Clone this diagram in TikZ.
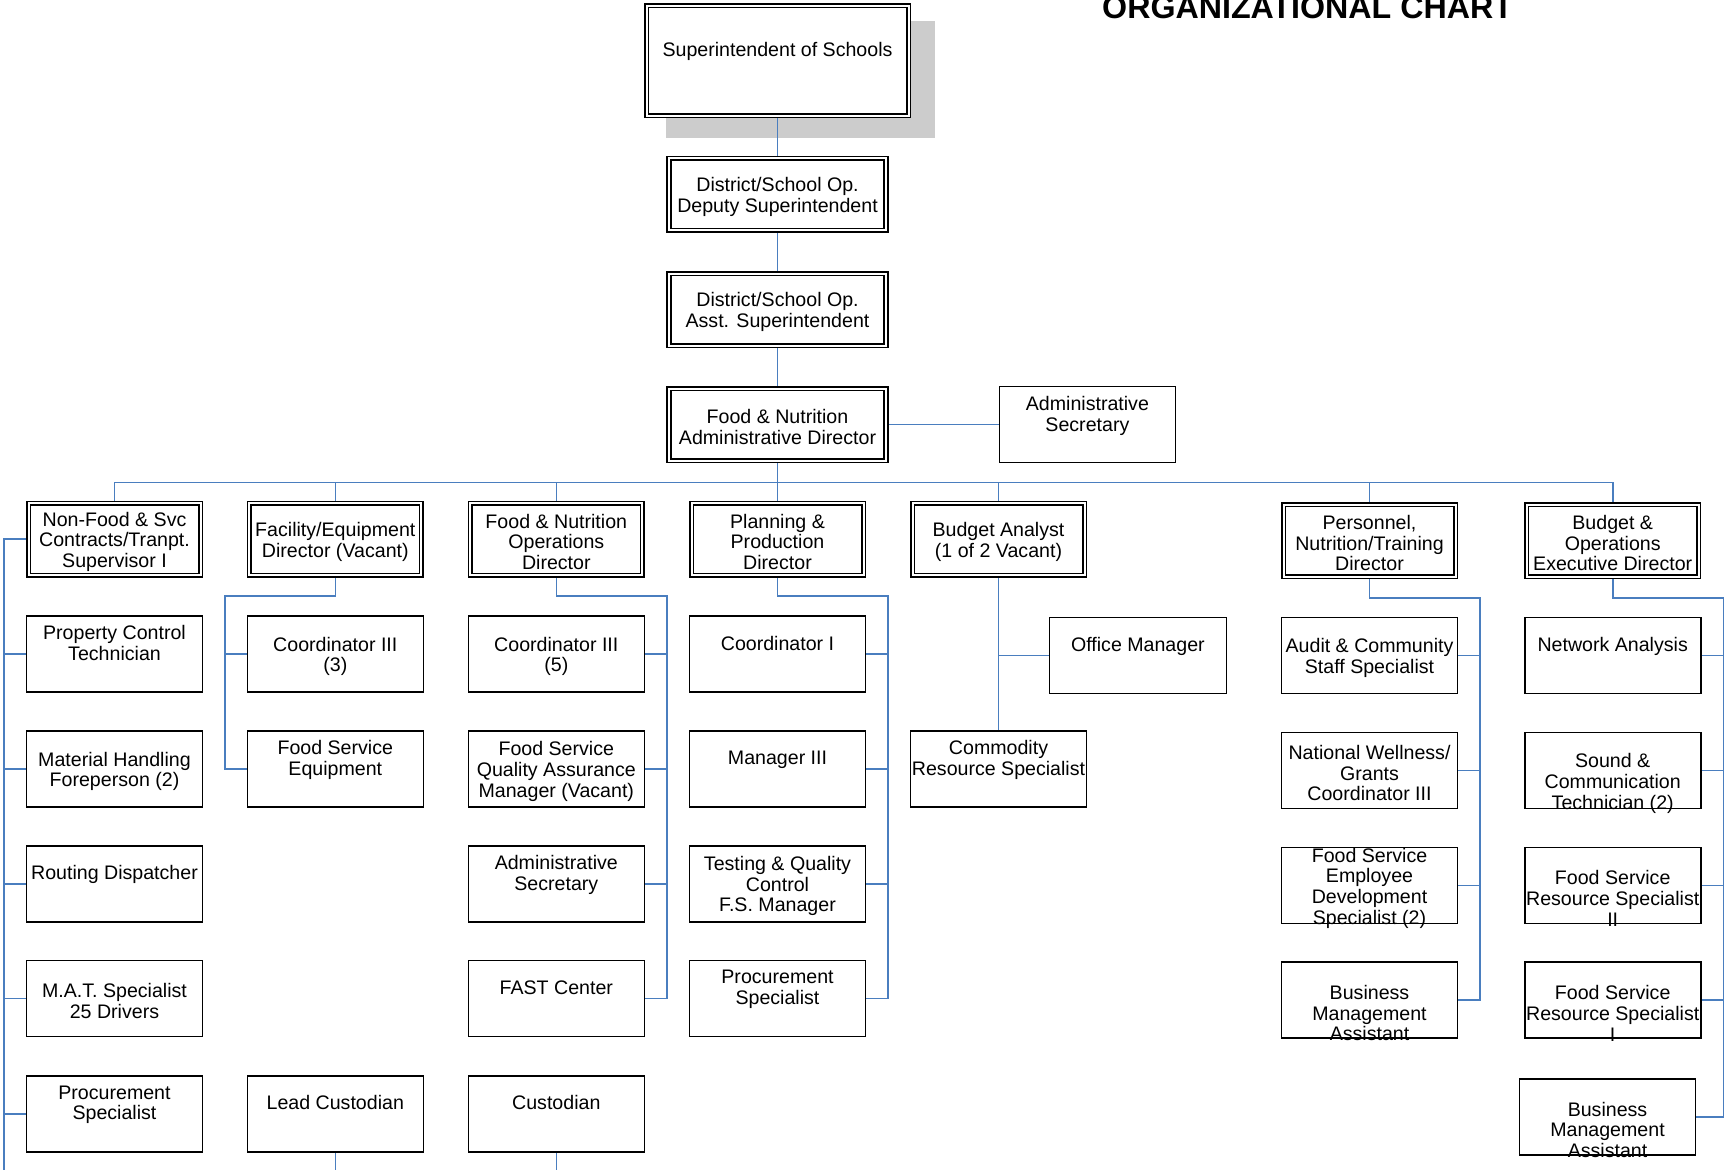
\documentclass[tikz,border=0pt]{standalone}
\usepackage{fontspec}
\setmainfont{Liberation Sans}
\usetikzlibrary{backgrounds}
\definecolor{linkblue}{RGB}{74,126,191}
\definecolor{shadowgray}{RGB}{204,204,204}
\newcommand{\jobfont}{\fontsize{19.6}{20.7}\selectfont}
\begin{document}
\begin{tikzpicture}[x=1pt,y=-1pt]
	\tikzstyle{box} = [draw,line width=1.6pt,fill=white,minimum width=176pt,minimum height=76pt,inner sep=0pt]
	\tikzstyle{head} = [box,double,double distance=2pt,minimum width=172pt,minimum height=72pt]
	\tikzstyle{txt} = [font=\jobfont,align=center,inner sep=0pt,yshift=-2.5pt]
	\tikzstyle{link} = [draw=linkblue,line width=1.6pt]
	\tikzstyle{feed} = [draw=linkblue,line width=1pt]

	\useasboundingbox (0,0) rectangle (1725,1170);

	\node[anchor=base west,inner sep=0pt,font=\fontsize{32.2}{36}\selectfont\bfseries] (title) at (1102,18) {ORGANIZATIONAL CHART};

	% top of the chart
	\node[head,minimum width=262pt,minimum height=110pt,label={[txt]center:{Superintendent of Schools\\\strut}}] (sup) at (777.5,60.5) {};
	\node[head,minimum width=217pt,label={[txt]center:{District/School Op.\\Deputy Superintendent}}] (dep) at (777.5,194.4) {};
	\node[head,minimum width=217pt,label={[txt]center:{District/School Op.\\Asst. Superintendent}}] (asst) at (777.5,309.5) {};
	\node[head,minimum width=217pt,label={[txt]center:{Food \& Nutrition\\Administrative Director}}] (fnad) at (777.5,424.5) {};
	\node[box,label={[txt]center:{Administrative\\Secretary\\\strut}}] (asec) at (1087.4,424.5) {};

	% directors
	\node[head,label={[txt]center:{Non-Food \& Svc\\Contracts/Tranpt.\\Supervisor I}}] (nonfood) at (114.5,539.2) {};
	\node[head,label={[txt]center:{Facility/Equipment\\Director (Vacant)}}] (facil) at (335.3,539.2) {};
	\node[head,label={[txt]center:{Food \& Nutrition\\Operations\\Director}}] (fnops) at (556.3,539.2) {};
	\node[head,label={[txt]center:{Planning \&\\Production\\Director}}] (plan) at (777.5,539.2) {};
	\node[head,label={[txt]center:{Budget Analyst\\(1 of 2 Vacant)}}] (budget) at (998.5,539.2) {};
	\node[head,label={[txt]center:{Personnel,\\Nutrition/Training\\Director}}] (pers) at (1369.5,540.7) {};
	\node[head,label={[txt]center:{Budget \&\\Operations\\Executive Director}}] (bops) at (1612.7,540.7) {};

	% non-food column
	\node[box,label={[txt]center:{Property Control\\Technician\\\strut}}] (pct) at (114.5,654) {};
	\node[box,label={[txt]center:{Material Handling\\Foreperson (2)}}] (mhf) at (114.5,768.8) {};
	\node[box,label={[txt]center:{Routing Dispatcher\\\strut}}] (rdis) at (114.5,883.7) {};
	\node[box,label={[txt]center:{M.A.T. Specialist\\25 Drivers}}] (mat) at (114.5,998.5) {};
	\node[box,label={[txt]center:{Procurement\\Specialist\\\strut}}] (proc1) at (114.5,1113.7) {};

	% facility column
	\node[box,label={[txt]center:{Coordinator III\\(3)}}] (coord3) at (335.3,654) {};
	\node[box,label={[txt]center:{Food Service\\Equipment\\\strut}}] (fse) at (335.3,768.8) {};
	\node[box,label={[txt]center:{Lead Custodian\\\strut}}] (leadc) at (335.3,1113.7) {};

	% operations column
	\node[box,label={[txt]center:{Coordinator III\\(5)}}] (coord5) at (556.3,654) {};
	\node[box,label={[txt]center:{Food Service\\Quality Assurance\\Manager (Vacant)}}] (fsqa) at (556.3,768.8) {};
	\node[box,label={[txt]center:{Administrative\\Secretary\\\strut}}] (asec2) at (556.3,883.7) {};
	\node[box,label={[txt]center:{FAST Center\\\strut}}] (fast) at (556.3,998.5) {};
	\node[box,label={[txt]center:{Custodian\\\strut}}] (cust) at (556.3,1113.7) {};

	% planning column
	\node[box,label={[txt]center:{Coordinator I\\\strut}}] (coord1) at (777.5,654) {};
	\node[box,label={[txt]center:{Manager III\\\strut}}] (mgr3) at (777.5,768.8) {};
	\node[box,label={[txt]center:{Testing \& Quality\\Control\\F.S. Manager}}] (tqc) at (777.5,883.7) {};
	\node[box,label={[txt]center:{Procurement\\Specialist\\\strut}}] (proc2) at (777.5,998.5) {};

	% budget analyst
	\node[box,minimum width=177pt,label={[txt]center:{Office Manager\\\strut}}] (office) at (1137.9,655.3) {};
	\node[box,label={[txt]center:{Commodity\\Resource Specialist\\\strut}}] (commod) at (998.5,768.7) {};

	% personnel column
	\node[box,label={[txt]center:{Audit \& Community\\Staff Specialist}}] (audit) at (1369.5,655.3) {};
	\node[box,label={[txt]center:{National Wellness/\\Grants\\Coordinator III}}] (nwell) at (1369.5,770.5) {};
	\node[box,label={[txt]center:{Food Service\\Employee\\Development\\Specialist (2)}}] (fsed) at (1369.5,885.5) {};
	\node[box,label={[txt]center:{\strut\\Business\\Management\\Assistant}}] (bma1) at (1369.5,1000.2) {};

	% budget & operations column
	\node[box,label={[txt]center:{Network Analysis\\\strut}}] (netw) at (1612.7,655.3) {};
	\node[box,label={[txt]center:{\strut\\Sound \&\\Communication\\Technician (2)}}] (sound) at (1612.7,770.5) {};
	\node[box,label={[txt]center:{\strut\\Food Service\\Resource Specialist\\II}}] (fsrs2) at (1612.7,885.5) {};
	\node[box,label={[txt]center:{\strut\\Food Service\\Resource Specialist\\I}}] (fsrs1) at (1612.7,1000.2) {};
	\node[box,label={[txt]center:{\strut\\Business\\Management\\Assistant}}] (bma2) at (1607.5,1116.7) {};

	\coordinate (t1) at (4,1170);
	\coordinate (t2) at (225,596);
	\coordinate (t3) at (666.7,596);
	\coordinate (t4) at (887.7,596);
	\coordinate (t6) at (1479.7,597.7);
	\coordinate (t7) at (1723.3,597.7);
	\coordinate (bot) at (0,1170);

	\begin{scope}[on background layer]
		\fill[shadowgray] (666,21) rectangle (935,138);
		\draw[feed] (sup) -- (dep);
		\draw[link] (dep) -- (asst);
		\draw[link] (asst) -- (fnad);
		\draw[link] (fnad) -- (asec);
		\path (fnad.south) ++(0,21) coordinate (bus);
		\foreach \d in {nonfood,facil,fnops,plan,budget,pers,bops}
			\draw[link] (fnad.south) -- (bus) -| (\d.north);

		\draw[link] (nonfood.west) -| (t1);
		\foreach \c in {pct,mhf,rdis,mat,proc1}
			\draw[link] (\c.west) -- (\c.west -| t1);

		\draw[link] (facil.south) |- (t2) |- (fse.west);
		\draw[link] (coord3.west) -- (coord3.west -| t2);

		\draw[link] (fnops.south) |- (t3) |- (fast.east);
		\foreach \c in {coord5,fsqa,asec2}
			\draw[link] (\c.east) -- (\c.east -| t3);

		\draw[link] (plan.south) |- (t4) |- (proc2.east);
		\foreach \c in {coord1,mgr3,tqc}
			\draw[link] (\c.east) -- (\c.east -| t4);

		\draw[link] (budget) -- (commod);
		\draw[link] (office.west) -- (office.west -| budget);

		\draw[link] (pers.south) |- (t6) |- (bma1.east);
		\foreach \c in {audit,nwell,fsed}
			\draw[link] (\c.east) -- (\c.east -| t6);

		\draw[link] (bops.south) |- (t7) |- (bma2.east);
		\foreach \c in {netw,sound,fsrs2,fsrs1}
			\draw[link] (\c.east) -- (\c.east -| t7);

		\draw[feed] (leadc.south) -- (leadc.south |- bot);
		\draw[feed] (cust.south) -- (cust.south |- bot);
	\end{scope}
\end{tikzpicture}
\end{document}
